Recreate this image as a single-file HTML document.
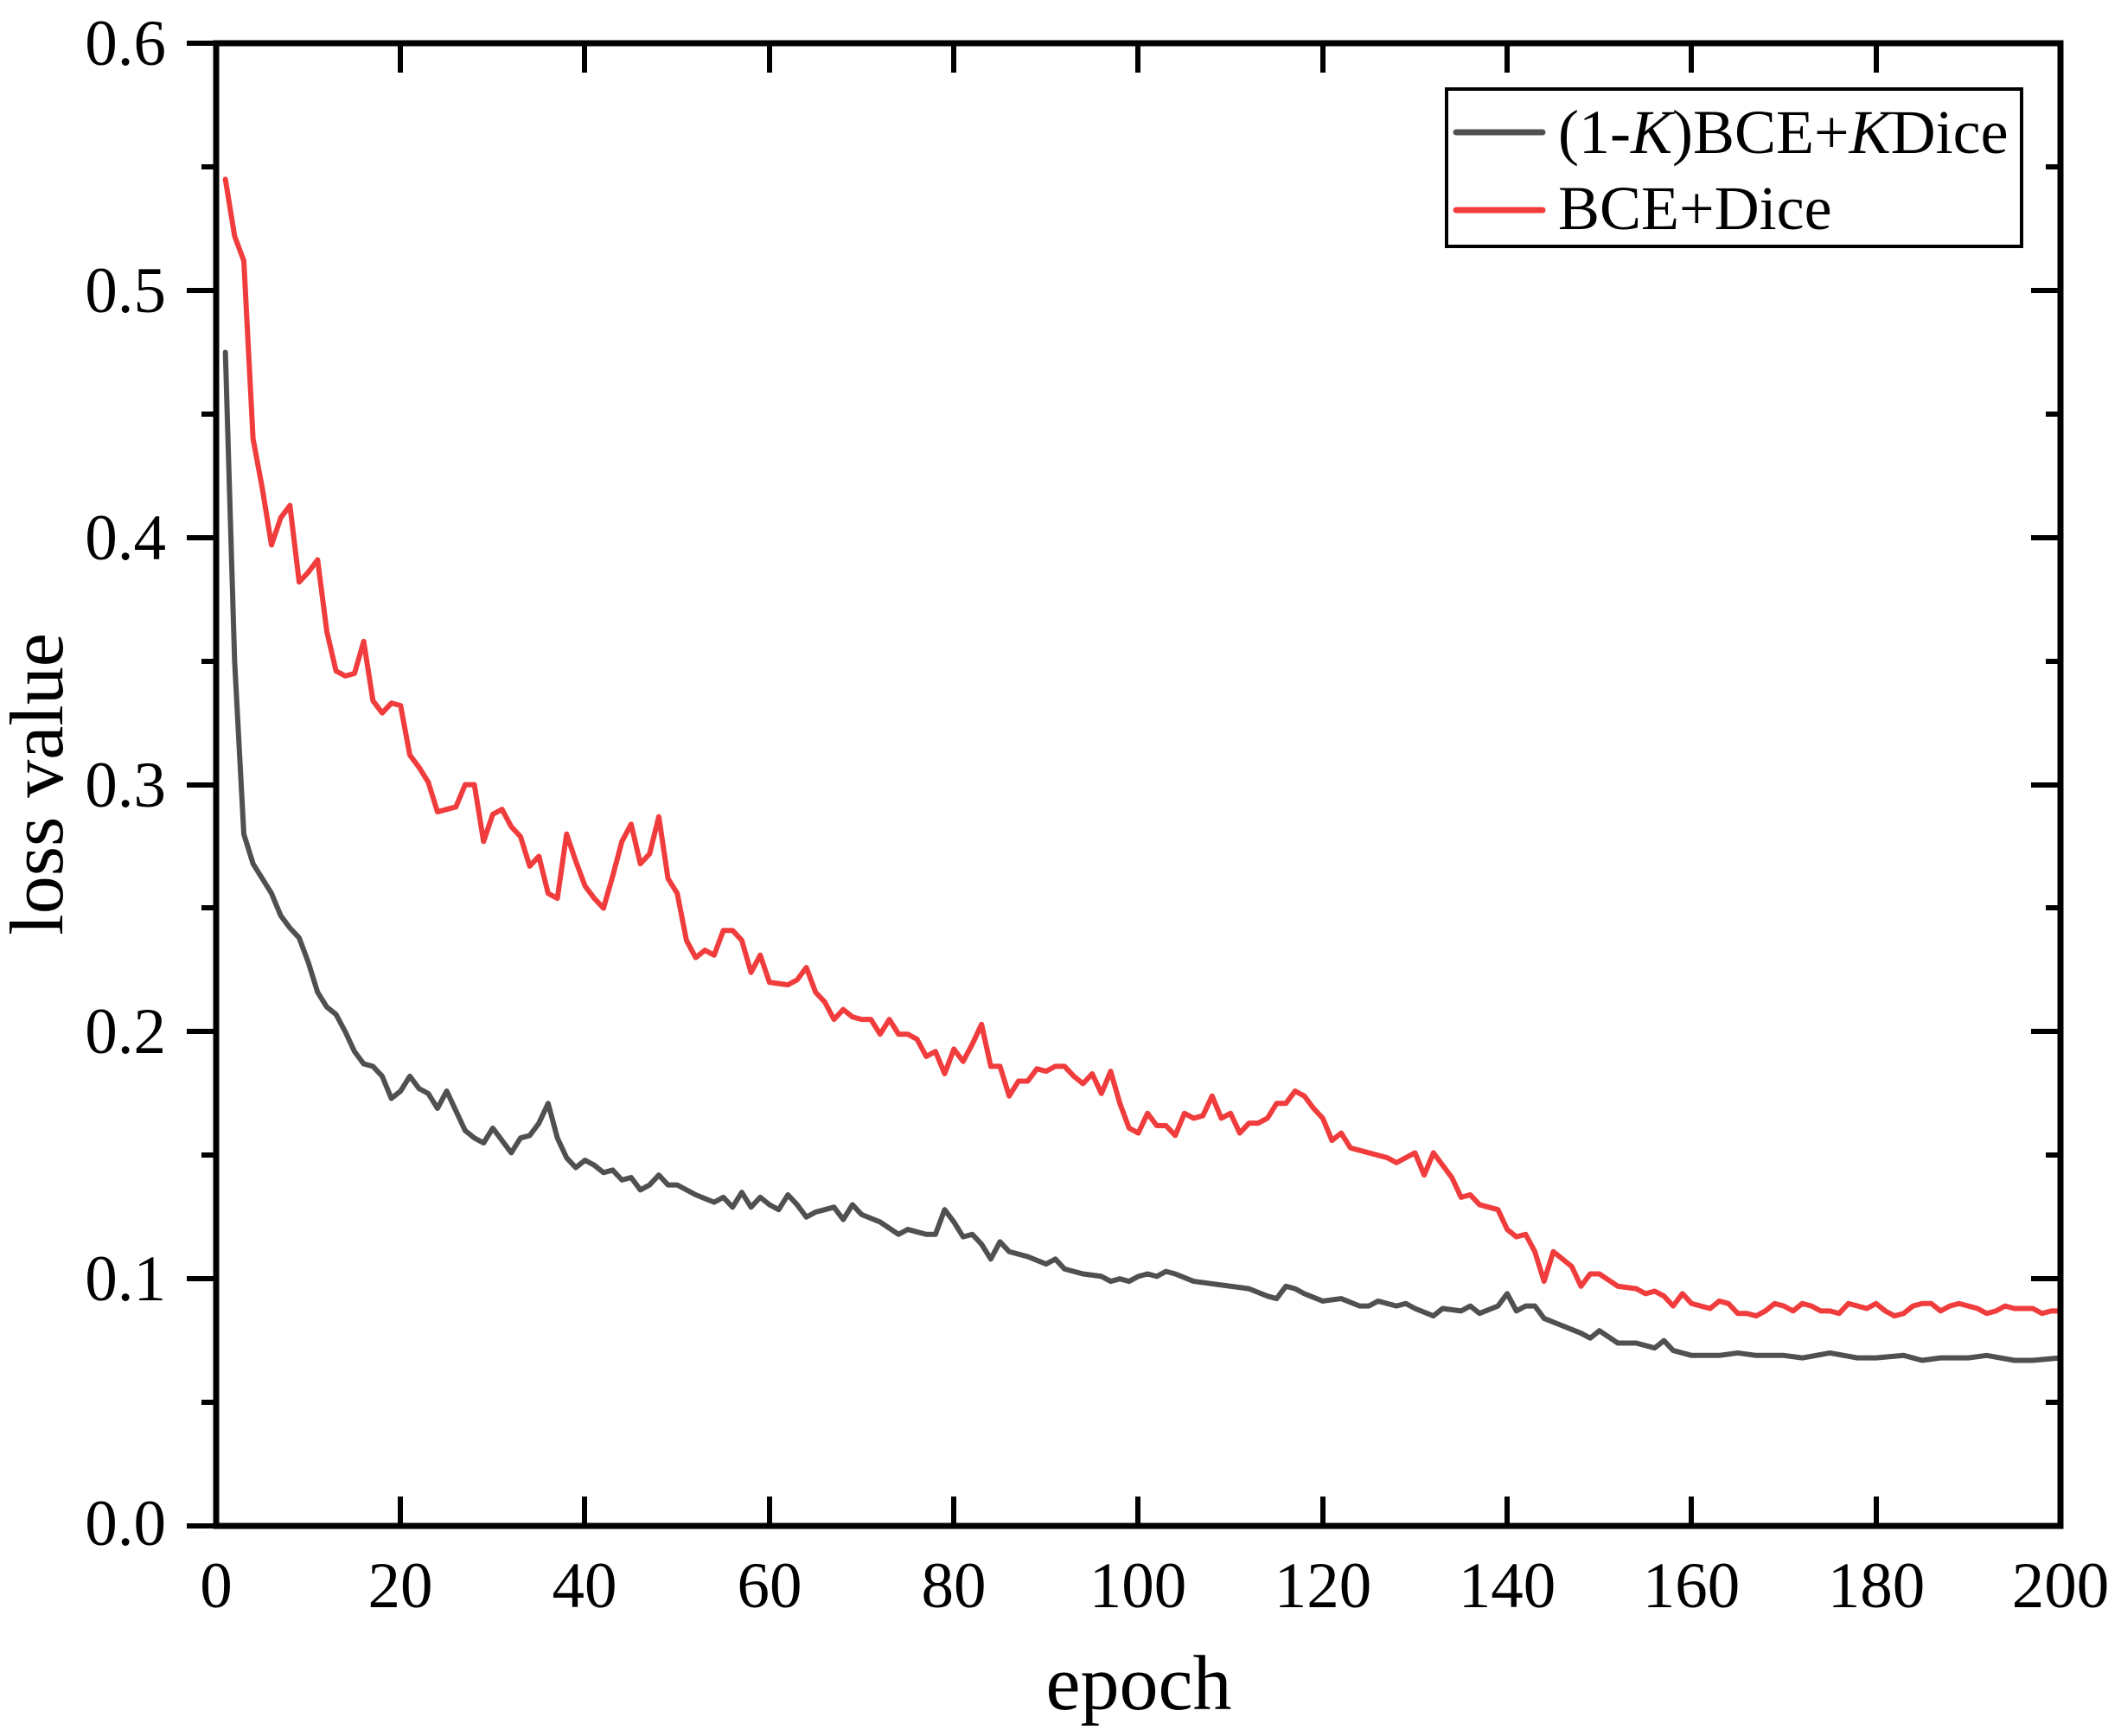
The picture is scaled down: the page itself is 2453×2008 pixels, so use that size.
<!DOCTYPE html>
<html><head><meta charset="utf-8"><style>
html,body{margin:0;padding:0;background:#fff;}
svg{display:block;}
text{font-family:"Liberation Serif",serif;fill:#000;}
</style></head><body>
<svg width="2453" height="2008" viewBox="0 0 2453 2008" xmlns="http://www.w3.org/2000/svg">
<rect width="2453" height="2008" fill="#fff"/>
<g transform="translate(250,1765) scale(10.665,-2858)">
<polyline fill="none" stroke="#505050" stroke-width="6" vector-effect="non-scaling-stroke" stroke-linejoin="round" stroke-linecap="round" points="1,0.475 2,0.35 3,0.28 4,0.268 5,0.262 6,0.256 7,0.247 8,0.242 9,0.238 10,0.228 11,0.216 12,0.21 13,0.207 14,0.2 15,0.192 16,0.187 17,0.186 18,0.182 19,0.173 20,0.176 21,0.182 22,0.177 23,0.175 24,0.169 25,0.176 26,0.168 27,0.16 28,0.157 29,0.155 30,0.161 31,0.156 32,0.151 33,0.157 34,0.158 35,0.163 36,0.171 37,0.157 38,0.149 39,0.145 40,0.148 41,0.146 42,0.143 43,0.144 44,0.14 45,0.141 46,0.136 47,0.138 48,0.142 49,0.138 50,0.138 52,0.134 54,0.131 55,0.133 56,0.129 57,0.135 58,0.129 59,0.133 60,0.13 61,0.128 62,0.134 63,0.13 64,0.125 65,0.127 66,0.128 67,0.129 68,0.124 69,0.13 70,0.126 72,0.123 74,0.118 75,0.12 77,0.118 78,0.118 79,0.128 80,0.123 81,0.117 82,0.118 83,0.114 84,0.108 85,0.115 86,0.111 88,0.109 90,0.106 91,0.108 92,0.104 94,0.102 96,0.101 97,0.099 98,0.1 99,0.099 100,0.101 101,0.102 102,0.101 103,0.103 104,0.102 106,0.099 108,0.098 110,0.097 112,0.096 114,0.093 115,0.092 116,0.097 117,0.096 118,0.094 120,0.091 122,0.092 124,0.089 125,0.089 126,0.091 128,0.089 129,0.09 130,0.088 132,0.085 133,0.088 135,0.087 136,0.089 137,0.086 139,0.089 140,0.094 141,0.087 142,0.089 143,0.089 144,0.084 146,0.081 148,0.078 149,0.076 150,0.079 152,0.074 154,0.074 156,0.072 157,0.075 158,0.071 160,0.069 163,0.069 165,0.07 167,0.069 170,0.069 172,0.068 175,0.07 178,0.068 180,0.068 183,0.069 185,0.067 187,0.068 190,0.068 192,0.069 195,0.067 197,0.067 200,0.068"/>
<polyline fill="none" stroke="#f03c3c" stroke-width="6" vector-effect="non-scaling-stroke" stroke-linejoin="round" stroke-linecap="round" points="1,0.545 2,0.522 3,0.512 4,0.44 5,0.42 6,0.397 7,0.408 8,0.413 9,0.382 10,0.386 11,0.391 12,0.362 13,0.346 14,0.344 15,0.345 16,0.358 17,0.334 18,0.329 19,0.333 20,0.332 21,0.312 22,0.307 23,0.301 24,0.289 25,0.29 26,0.291 27,0.3 28,0.3 29,0.277 30,0.288 31,0.29 32,0.283 33,0.279 34,0.267 35,0.271 36,0.256 37,0.254 38,0.28 39,0.269 40,0.259 41,0.254 42,0.25 43,0.263 44,0.277 45,0.284 46,0.268 47,0.272 48,0.287 49,0.262 50,0.256 51,0.237 52,0.23 53,0.233 54,0.231 55,0.241 56,0.241 57,0.237 58,0.224 59,0.231 60,0.22 62,0.219 63,0.221 64,0.226 65,0.216 66,0.212 67,0.205 68,0.209 69,0.206 70,0.205 71,0.205 72,0.199 73,0.205 74,0.199 75,0.199 76,0.197 77,0.19 78,0.192 79,0.183 80,0.193 81,0.188 82,0.195 83,0.203 84,0.186 85,0.186 86,0.174 87,0.18 88,0.18 89,0.185 90,0.184 91,0.186 92,0.186 93,0.182 94,0.179 95,0.183 96,0.175 97,0.184 98,0.171 99,0.161 100,0.159 101,0.167 102,0.162 103,0.162 104,0.158 105,0.167 106,0.165 107,0.166 108,0.174 109,0.165 110,0.167 111,0.159 112,0.163 113,0.163 114,0.165 115,0.171 116,0.171 117,0.176 118,0.174 119,0.169 120,0.165 121,0.156 122,0.159 123,0.153 125,0.151 127,0.149 128,0.147 129,0.149 130,0.151 131,0.142 132,0.151 133,0.146 134,0.141 135,0.133 136,0.134 137,0.13 138,0.129 139,0.128 140,0.12 141,0.117 142,0.118 143,0.111 144,0.099 145,0.111 146,0.108 147,0.105 148,0.097 149,0.102 150,0.102 152,0.097 154,0.096 155,0.094 156,0.095 157,0.093 158,0.089 159,0.094 160,0.09 162,0.088 163,0.091 164,0.09 165,0.086 166,0.086 167,0.085 168,0.087 169,0.09 170,0.089 171,0.087 172,0.09 173,0.089 174,0.087 175,0.087 176,0.086 177,0.09 178,0.089 179,0.088 180,0.09 181,0.087 182,0.085 183,0.086 184,0.089 185,0.09 186,0.09 187,0.087 188,0.089 189,0.09 190,0.089 191,0.088 192,0.086 193,0.087 194,0.089 195,0.088 196,0.088 197,0.088 198,0.086 199,0.087 200,0.087"/>
</g>
<rect x="250" y="50" width="2133" height="1715" fill="none" stroke="#000" stroke-width="7"/>
<g stroke="#000" stroke-width="6">
<path d="M216 50H250M216 336H250M216 622H250M216 908H250M216 1193H250M216 1479H250M216 1765H250"/>
<path d="M233 193H250M233 479H250M233 765H250M233 1050H250M233 1336H250M233 1622H250"/>
<path d="M2349 336H2383M2349 622H2383M2349 908H2383M2349 1193H2383M2349 1479H2383"/>
<path d="M2366 193H2383M2366 479H2383M2366 765H2383M2366 1050H2383M2366 1336H2383M2366 1622H2383"/>
<path d="M463 1731V1765M676 1731V1765M890 1731V1765M1103 1731V1765M1316 1731V1765M1530 1731V1765M1743 1731V1765M1956 1731V1765M2170 1731V1765"/>
<path d="M463 50V84M676 50V84M890 50V84M1103 50V84M1316 50V84M1530 50V84M1743 50V84M1956 50V84M2170 50V84"/>
</g>
<g font-size="75" text-anchor="end">
<text x="192" y="75">0.6</text>
<text x="192" y="361">0.5</text>
<text x="192" y="647">0.4</text>
<text x="192" y="933">0.3</text>
<text x="192" y="1218">0.2</text>
<text x="192" y="1504">0.1</text>
<text x="192" y="1787">0.0</text>
</g>
<g font-size="75" text-anchor="middle">
<text x="250" y="1859">0</text>
<text x="463" y="1859">20</text>
<text x="676" y="1859">40</text>
<text x="890" y="1859">60</text>
<text x="1103" y="1859">80</text>
<text x="1316" y="1859">100</text>
<text x="1530" y="1859">120</text>
<text x="1743" y="1859">140</text>
<text x="1956" y="1859">160</text>
<text x="2170" y="1859">180</text>
<text x="2383" y="1859">200</text>
</g>
<text x="1317" y="1977" font-size="90" text-anchor="middle">epoch</text>
<text transform="translate(72,907) rotate(-90)" font-size="88" text-anchor="middle">loss value</text>
<rect x="1673" y="103" width="665" height="182" fill="#fff" stroke="#000" stroke-width="4"/>
<line x1="1684" y1="153" x2="1784" y2="153" stroke="#505050" stroke-width="7" stroke-linecap="round"/>
<line x1="1684" y1="243" x2="1784" y2="243" stroke="#f03c3c" stroke-width="7" stroke-linecap="round"/>
<text x="1802" y="177" font-size="72">(1-<tspan font-style="italic">K</tspan>)BCE+<tspan font-style="italic">K</tspan>Dice</text>
<text x="1802" y="265" font-size="72">BCE+Dice</text>
</svg>
</body></html>
